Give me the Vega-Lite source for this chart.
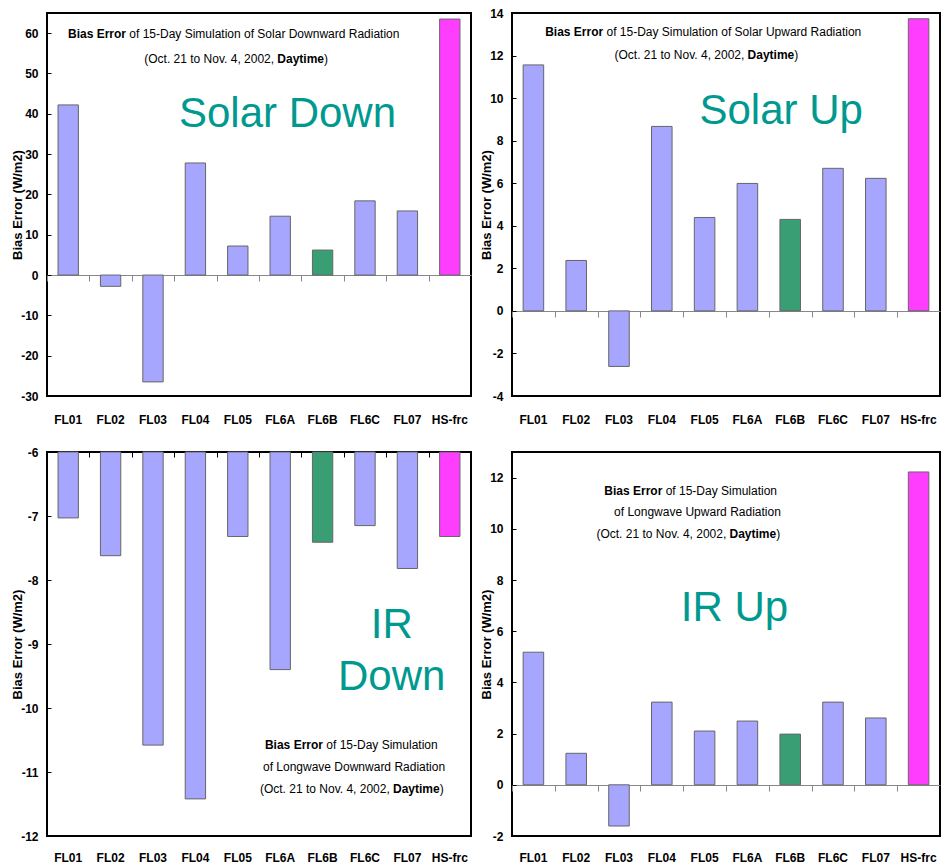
{
  "$schema": "https://vega.github.io/schema/vega-lite/v6.json",
  "background": "white",
  "padding": {"left": 10, "top": 6, "right": 0, "bottom": 0},
  "columns": 2,
  "spacing": {"row": 56, "column": 41},
  "bounds": "flush",
  "datasets": {
    "sd": [
      {"model": "FL01", "bias": 42.2}, {"model": "FL02", "bias": -2.8}, {"model": "FL03", "bias": -26.5},
      {"model": "FL04", "bias": 27.8}, {"model": "FL05", "bias": 7.2}, {"model": "FL6A", "bias": 14.6},
      {"model": "FL6B", "bias": 6.2}, {"model": "FL6C", "bias": 18.4}, {"model": "FL07", "bias": 15.9},
      {"model": "HS-frc", "bias": 63.5}
    ],
    "su": [
      {"model": "FL01", "bias": 11.56}, {"model": "FL02", "bias": 2.37}, {"model": "FL03", "bias": -2.61},
      {"model": "FL04", "bias": 8.67}, {"model": "FL05", "bias": 4.39}, {"model": "FL6A", "bias": 5.99},
      {"model": "FL6B", "bias": 4.3}, {"model": "FL6C", "bias": 6.7}, {"model": "FL07", "bias": 6.23},
      {"model": "HS-frc", "bias": 13.73}
    ],
    "ird": [
      {"model": "FL01", "bias": -7.03}, {"model": "FL02", "bias": -7.62}, {"model": "FL03", "bias": -10.58},
      {"model": "FL04", "bias": -11.42}, {"model": "FL05", "bias": -7.32}, {"model": "FL6A", "bias": -9.4},
      {"model": "FL6B", "bias": -7.41}, {"model": "FL6C", "bias": -7.15}, {"model": "FL07", "bias": -7.82},
      {"model": "HS-frc", "bias": -7.32}
    ],
    "iru": [
      {"model": "FL01", "bias": 5.18}, {"model": "FL02", "bias": 1.23}, {"model": "FL03", "bias": -1.61},
      {"model": "FL04", "bias": 3.23}, {"model": "FL05", "bias": 2.1}, {"model": "FL6A", "bias": 2.49},
      {"model": "FL6B", "bias": 1.98}, {"model": "FL6C", "bias": 3.23}, {"model": "FL07", "bias": 2.61},
      {"model": "HS-frc", "bias": 12.22}
    ]
  },
  "config": {
    "view": {"stroke": "#000", "strokeWidth": 2},
    "axisY": {
      "domain": false, "grid": false, "tickSize": -4, "tickColor": "#000", "tickWidth": 1,
      "labelPadding": 13, "labelFont": "Liberation Sans, Arial, sans-serif",
      "labelFontSize": 12, "labelFontWeight": "bold", "labelColor": "#000",
      "titleFont": "Liberation Sans, Arial, sans-serif", "titleFontSize": 13, "titleFontWeight": "bold",
      "titleColor": "#000", "titlePadding": -4
    },
    "axisX": {
      "grid": false, "labelAngle": 0, "labelColor": "#000",
      "labelFont": "Liberation Sans, Arial, sans-serif",
      "labelFontSize": 12, "labelFontWeight": "bold"
    },
    "text": {"font": "Liberation Sans, Arial, sans-serif", "color": "#000"}
  },
  "concat": [
    {
      "width": 424, "height": 383,
      "resolve": {"scale": {"x": "independent"}, "axis": {"x": "independent"}},
      "layer": [
        {
          "data": {"name": "sd"},
          "mark": {"type": "bar", "stroke": "#666", "strokeWidth": 1},
          "encoding": {
            "x": {"field": "model", "type": "nominal", "sort": null, "scale": {"paddingInner": 0.52, "paddingOuter": 0.26},
              "axis": {"orient": "bottom", "title": null, "domain": false, "ticks": false, "labelPadding": 18}},
            "y": {"field": "bias", "type": "quantitative", "scale": {"domain": [-30, 65], "nice": false, "zero": false},
              "axis": {"title": "Bias Error (W/m2)", "values": [-30, -20, -10, 0, 10, 20, 30, 40, 50, 60], "labelExpr": "'' + datum.value"}},
            "color": {"field": "model", "type": "nominal", "legend": null,
              "scale": {"domain": ["FL01", "FL02", "FL03", "FL04", "FL05", "FL6A", "FL6B", "FL6C", "FL07", "HS-frc"],
                "range": ["#A6A6FF", "#A6A6FF", "#A6A6FF", "#A6A6FF", "#A6A6FF", "#A6A6FF", "#3A9E74", "#A6A6FF", "#A6A6FF", "#FF3DFF"]}}
          }
        },
        {
          "data": {"name": "sd"},
          "mark": {"type": "bar", "opacity": 0},
          "encoding": {
            "x": {"field": "model", "type": "nominal", "sort": null, "scale": {"paddingInner": 0.52, "paddingOuter": 0.26},
              "axis": {"orient": "bottom", "offset": -121, "title": null, "labels": false, "domain": true, "domainColor": "#888",
                "ticks": true, "bandPosition": 0, "tickOffset": -11, "tickSize": 6, "tickColor": "#888"}},
            "y": {"field": "bias", "type": "quantitative"}
          }
        },
        {"data": {"values": [{}]}, "mark": {"type": "text", "text": "Bias Error", "fontSize": 12, "fontWeight": "bold", "align": "right", "baseline": "middle"},
          "encoding": {"x": {"datum": 1.863, "type": "quantitative", "scale": {"domain": [0, 10]}, "axis": null}, "y": {"datum": 59.79, "type": "quantitative"}}},
        {"data": {"values": [{}]}, "mark": {"type": "text", "text": "of 15-Day Simulation of Solar Downward Radiation", "fontSize": 12, "align": "left", "baseline": "middle"},
          "encoding": {"x": {"datum": 1.941, "type": "quantitative", "scale": {"domain": [0, 10]}, "axis": null}, "y": {"datum": 59.79, "type": "quantitative"}}},
        {"data": {"values": [{}]}, "mark": {"type": "text", "text": "(Oct. 21 to Nov. 4, 2002,", "fontSize": 12, "align": "right", "baseline": "middle"},
          "encoding": {"x": {"datum": 5.356, "type": "quantitative", "scale": {"domain": [0, 10]}, "axis": null}, "y": {"datum": 53.59, "type": "quantitative"}}},
        {"data": {"values": [{}]}, "mark": {"type": "text", "text": "Daytime", "fontSize": 12, "fontWeight": "bold", "align": "left", "baseline": "middle"},
          "encoding": {"x": {"datum": 5.432, "type": "quantitative", "scale": {"domain": [0, 10]}, "axis": null}, "y": {"datum": 53.59, "type": "quantitative"}}},
        {"data": {"values": [{}]}, "mark": {"type": "text", "text": ")", "fontSize": 12, "align": "left", "baseline": "middle"},
          "encoding": {"x": {"datum": 6.533, "type": "quantitative", "scale": {"domain": [0, 10]}, "axis": null}, "y": {"datum": 53.59, "type": "quantitative"}}},
        {"data": {"values": [{}]}, "mark": {"type": "text", "text": "Solar Down", "fontSize": 42, "color": "#009990", "align": "center", "baseline": "alphabetic"},
          "encoding": {"x": {"datum": 5.672, "type": "quantitative", "scale": {"domain": [0, 10]}, "axis": null}, "y": {"datum": 36.72, "type": "quantitative"}}}
      ]
    },
    {
      "width": 428, "height": 383,
      "resolve": {"scale": {"x": "independent"}, "axis": {"x": "independent"}},
      "layer": [
        {
          "data": {"name": "su"},
          "mark": {"type": "bar", "stroke": "#666", "strokeWidth": 1},
          "encoding": {
            "x": {"field": "model", "type": "nominal", "sort": null, "scale": {"paddingInner": 0.52, "paddingOuter": 0.26},
              "axis": {"orient": "bottom", "title": null, "domain": false, "ticks": false, "labelPadding": 18}},
            "y": {"field": "bias", "type": "quantitative", "scale": {"domain": [-4, 14], "nice": false, "zero": false},
              "axis": {"title": "Bias Error (W/m2)", "values": [-4, -2, 0, 2, 4, 6, 8, 10, 12, 14], "labelExpr": "'' + datum.value"}},
            "color": {"field": "model", "type": "nominal", "legend": null,
              "scale": {"domain": ["FL01", "FL02", "FL03", "FL04", "FL05", "FL6A", "FL6B", "FL6C", "FL07", "HS-frc"],
                "range": ["#A6A6FF", "#A6A6FF", "#A6A6FF", "#A6A6FF", "#A6A6FF", "#A6A6FF", "#3A9E74", "#A6A6FF", "#A6A6FF", "#FF3DFF"]}}
          }
        },
        {
          "data": {"name": "su"},
          "mark": {"type": "bar", "opacity": 0},
          "encoding": {
            "x": {"field": "model", "type": "nominal", "sort": null, "scale": {"paddingInner": 0.52, "paddingOuter": 0.26},
              "axis": {"orient": "bottom", "offset": -85, "title": null, "labels": false, "domain": true, "domainColor": "#888",
                "ticks": true, "bandPosition": 0, "tickOffset": -11.1, "tickSize": 6, "tickColor": "#888"}},
            "y": {"field": "bias", "type": "quantitative"}
          }
        },
        {"data": {"values": [{}]}, "mark": {"type": "text", "text": "Bias Error", "fontSize": 12, "fontWeight": "bold", "align": "right", "baseline": "middle"},
          "encoding": {"x": {"datum": 2.131, "type": "quantitative", "scale": {"domain": [0, 10]}, "axis": null}, "y": {"datum": 13.107, "type": "quantitative"}}},
        {"data": {"values": [{}]}, "mark": {"type": "text", "text": "of 15-Day Simulation of Solar Upward Radiation", "fontSize": 12, "align": "left", "baseline": "middle"},
          "encoding": {"x": {"datum": 2.208, "type": "quantitative", "scale": {"domain": [0, 10]}, "axis": null}, "y": {"datum": 13.107, "type": "quantitative"}}},
        {"data": {"values": [{}]}, "mark": {"type": "text", "text": "(Oct. 21 to Nov. 4, 2002,", "fontSize": 12, "align": "right", "baseline": "middle"},
          "encoding": {"x": {"datum": 5.429, "type": "quantitative", "scale": {"domain": [0, 10]}, "axis": null}, "y": {"datum": 12.026, "type": "quantitative"}}},
        {"data": {"values": [{}]}, "mark": {"type": "text", "text": "Daytime", "fontSize": 12, "fontWeight": "bold", "align": "left", "baseline": "middle"},
          "encoding": {"x": {"datum": 5.504, "type": "quantitative", "scale": {"domain": [0, 10]}, "axis": null}, "y": {"datum": 12.026, "type": "quantitative"}}},
        {"data": {"values": [{}]}, "mark": {"type": "text", "text": ")", "fontSize": 12, "align": "left", "baseline": "middle"},
          "encoding": {"x": {"datum": 6.597, "type": "quantitative", "scale": {"domain": [0, 10]}, "axis": null}, "y": {"datum": 12.026, "type": "quantitative"}}},
        {"data": {"values": [{}]}, "mark": {"type": "text", "text": "Solar Up", "fontSize": 42, "color": "#009990", "align": "center", "baseline": "alphabetic"},
          "encoding": {"x": {"datum": 6.288, "type": "quantitative", "scale": {"domain": [0, 10]}, "axis": null}, "y": {"datum": 8.783, "type": "quantitative"}}}
      ]
    },
    {
      "width": 424, "height": 384,
      "resolve": {"scale": {"x": "independent"}, "axis": {"x": "independent"}},
      "layer": [
        {
          "data": {"name": "ird"},
          "mark": {"type": "bar", "stroke": "#666", "strokeWidth": 1},
          "encoding": {
            "x": {"field": "model", "type": "nominal", "sort": null, "scale": {"paddingInner": 0.52, "paddingOuter": 0.26},
              "axis": {"orient": "bottom", "title": null, "domain": false, "ticks": false, "labelPadding": 16}},
            "y": {"field": "bias", "type": "quantitative", "scale": {"domain": [-12, -6], "nice": false, "zero": false},
              "axis": {"title": "Bias Error (W/m2)", "values": [-12, -11, -10, -9, -8, -7, -6], "labelExpr": "'' + datum.value"}},
            "y2": {"datum": -6},
            "color": {"field": "model", "type": "nominal", "legend": null,
              "scale": {"domain": ["FL01", "FL02", "FL03", "FL04", "FL05", "FL6A", "FL6B", "FL6C", "FL07", "HS-frc"],
                "range": ["#A6A6FF", "#A6A6FF", "#A6A6FF", "#A6A6FF", "#A6A6FF", "#A6A6FF", "#3A9E74", "#A6A6FF", "#A6A6FF", "#FF3DFF"]}}
          }
        },
        {
          "data": {"name": "ird"},
          "mark": {"type": "bar", "opacity": 0},
          "encoding": {
            "x": {"field": "model", "type": "nominal", "sort": null, "scale": {"paddingInner": 0.52, "paddingOuter": 0.26},
              "axis": {"orient": "bottom", "offset": -384, "title": null, "labels": false, "domain": false,
                "ticks": true, "bandPosition": 0, "tickOffset": -11, "tickSize": 5, "tickColor": "#000"}},
            "y": {"field": "bias", "type": "quantitative"}
          }
        },
        {"data": {"values": [{}]}, "mark": {"type": "text", "text": "Bias Error", "fontSize": 12, "fontWeight": "bold", "align": "right", "baseline": "middle"},
          "encoding": {"x": {"datum": 6.509, "type": "quantitative", "scale": {"domain": [0, 10]}, "axis": null}, "y": {"datum": -10.578, "type": "quantitative"}}},
        {"data": {"values": [{}]}, "mark": {"type": "text", "text": "of 15-Day Simulation", "fontSize": 12, "align": "left", "baseline": "middle"},
          "encoding": {"x": {"datum": 6.587, "type": "quantitative", "scale": {"domain": [0, 10]}, "axis": null}, "y": {"datum": -10.578, "type": "quantitative"}}},
        {"data": {"values": [{}]}, "mark": {"type": "text", "text": "of Longwave Downward Radiation", "fontSize": 12, "align": "center", "baseline": "middle"},
          "encoding": {"x": {"datum": 7.241, "type": "quantitative", "scale": {"domain": [0, 10]}, "axis": null}, "y": {"datum": -10.922, "type": "quantitative"}}},
        {"data": {"values": [{}]}, "mark": {"type": "text", "text": "(Oct. 21 to Nov. 4, 2002,", "fontSize": 12, "align": "right", "baseline": "middle"},
          "encoding": {"x": {"datum": 8.085, "type": "quantitative", "scale": {"domain": [0, 10]}, "axis": null}, "y": {"datum": -11.266, "type": "quantitative"}}},
        {"data": {"values": [{}]}, "mark": {"type": "text", "text": "Daytime", "fontSize": 12, "fontWeight": "bold", "align": "left", "baseline": "middle"},
          "encoding": {"x": {"datum": 8.16, "type": "quantitative", "scale": {"domain": [0, 10]}, "axis": null}, "y": {"datum": -11.266, "type": "quantitative"}}},
        {"data": {"values": [{}]}, "mark": {"type": "text", "text": ")", "fontSize": 12, "align": "left", "baseline": "middle"},
          "encoding": {"x": {"datum": 9.262, "type": "quantitative", "scale": {"domain": [0, 10]}, "axis": null}, "y": {"datum": -11.266, "type": "quantitative"}}},
        {"data": {"values": [{}]}, "mark": {"type": "text", "text": "IR", "fontSize": 42, "color": "#009990", "align": "center", "baseline": "alphabetic"},
          "encoding": {"x": {"datum": 8.13, "type": "quantitative", "scale": {"domain": [0, 10]}, "axis": null}, "y": {"datum": -8.906, "type": "quantitative"}}},
        {"data": {"values": [{}]}, "mark": {"type": "text", "text": "Down", "fontSize": 42, "color": "#009990", "align": "center", "baseline": "alphabetic"},
          "encoding": {"x": {"datum": 8.13, "type": "quantitative", "scale": {"domain": [0, 10]}, "axis": null}, "y": {"datum": -9.719, "type": "quantitative"}}}
      ]
    },
    {
      "width": 428, "height": 384,
      "resolve": {"scale": {"x": "independent"}, "axis": {"x": "independent"}},
      "layer": [
        {
          "data": {"name": "iru"},
          "mark": {"type": "bar", "stroke": "#666", "strokeWidth": 1},
          "encoding": {
            "x": {"field": "model", "type": "nominal", "sort": null, "scale": {"paddingInner": 0.52, "paddingOuter": 0.26},
              "axis": {"orient": "bottom", "title": null, "domain": false, "ticks": false, "labelPadding": 16}},
            "y": {"field": "bias", "type": "quantitative", "scale": {"domain": [-2, 13], "nice": false, "zero": false},
              "axis": {"title": "Bias Error (W/m2)", "values": [-2, 0, 2, 4, 6, 8, 10, 12], "labelExpr": "'' + datum.value"}},
            "color": {"field": "model", "type": "nominal", "legend": null,
              "scale": {"domain": ["FL01", "FL02", "FL03", "FL04", "FL05", "FL6A", "FL6B", "FL6C", "FL07", "HS-frc"],
                "range": ["#A6A6FF", "#A6A6FF", "#A6A6FF", "#A6A6FF", "#A6A6FF", "#A6A6FF", "#3A9E74", "#A6A6FF", "#A6A6FF", "#FF3DFF"]}}
          }
        },
        {
          "data": {"name": "iru"},
          "mark": {"type": "bar", "opacity": 0},
          "encoding": {
            "x": {"field": "model", "type": "nominal", "sort": null, "scale": {"paddingInner": 0.52, "paddingOuter": 0.26},
              "axis": {"orient": "bottom", "offset": -51, "title": null, "labels": false, "domain": true, "domainColor": "#888",
                "ticks": true, "bandPosition": 0, "tickOffset": -11.1, "tickSize": 6, "tickColor": "#888"}},
            "y": {"field": "bias", "type": "quantitative"}
          }
        },
        {"data": {"values": [{}]}, "mark": {"type": "text", "text": "Bias Error", "fontSize": 12, "fontWeight": "bold", "align": "right", "baseline": "middle"},
          "encoding": {"x": {"datum": 3.513, "type": "quantitative", "scale": {"domain": [0, 10]}, "axis": null}, "y": {"datum": 11.477, "type": "quantitative"}}},
        {"data": {"values": [{}]}, "mark": {"type": "text", "text": "of 15-Day Simulation", "fontSize": 12, "align": "left", "baseline": "middle"},
          "encoding": {"x": {"datum": 3.59, "type": "quantitative", "scale": {"domain": [0, 10]}, "axis": null}, "y": {"datum": 11.477, "type": "quantitative"}}},
        {"data": {"values": [{}]}, "mark": {"type": "text", "text": "of Longwave Upward Radiation", "fontSize": 12, "align": "center", "baseline": "middle"},
          "encoding": {"x": {"datum": 4.333, "type": "quantitative", "scale": {"domain": [0, 10]}, "axis": null}, "y": {"datum": 10.656, "type": "quantitative"}}},
        {"data": {"values": [{}]}, "mark": {"type": "text", "text": "(Oct. 21 to Nov. 4, 2002,", "fontSize": 12, "align": "right", "baseline": "middle"},
          "encoding": {"x": {"datum": 5.007, "type": "quantitative", "scale": {"domain": [0, 10]}, "axis": null}, "y": {"datum": 9.8, "type": "quantitative"}}},
        {"data": {"values": [{}]}, "mark": {"type": "text", "text": "Daytime", "fontSize": 12, "fontWeight": "bold", "align": "left", "baseline": "middle"},
          "encoding": {"x": {"datum": 5.082, "type": "quantitative", "scale": {"domain": [0, 10]}, "axis": null}, "y": {"datum": 9.8, "type": "quantitative"}}},
        {"data": {"values": [{}]}, "mark": {"type": "text", "text": ")", "fontSize": 12, "align": "left", "baseline": "middle"},
          "encoding": {"x": {"datum": 6.176, "type": "quantitative", "scale": {"domain": [0, 10]}, "axis": null}, "y": {"datum": 9.8, "type": "quantitative"}}},
        {"data": {"values": [{}]}, "mark": {"type": "text", "text": "IR Up", "fontSize": 42, "color": "#009990", "align": "center", "baseline": "alphabetic"},
          "encoding": {"x": {"datum": 5.199, "type": "quantitative", "scale": {"domain": [0, 10]}, "axis": null}, "y": {"datum": 6.398, "type": "quantitative"}}}
      ]
    }
  ]
}
